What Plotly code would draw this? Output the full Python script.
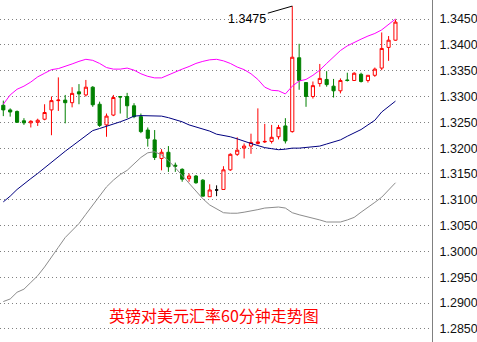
import plotly.graph_objects as go

# OHLC data (GBP/USD, 60-minute bars)
opens = [1.3283, 1.3274, 1.3271, 1.3253, 1.3249, 1.3250, 1.3256, 1.3274, 1.3292, 1.3293,
         1.3288, 1.3309, 1.3303, 1.3318, 1.3285, 1.3245, 1.3264, 1.3300, 1.3300, 1.3282,
         1.3261, 1.3235, 1.3216, 1.3180, 1.3192, 1.3167, 1.3159, 1.3141, 1.3146, 1.3138,
         1.3106, 1.3119, 1.3120, 1.3158, 1.3188, 1.3200, 1.3204, 1.3209, 1.3212, 1.3213,
         1.3222, 1.3243, 1.3232, 1.3375, 1.3327, 1.3300, 1.3325, 1.3333, 1.3320, 1.3311,
         1.3332, 1.3331, 1.3343, 1.3331, 1.3341, 1.3355, 1.3395, 1.3409]
highs = [1.3292, 1.3277, 1.3273, 1.3258, 1.3254, 1.3257, 1.3285, 1.3300, 1.3337, 1.3303,
         1.3318, 1.3324, 1.3332, 1.3320, 1.3290, 1.3267, 1.3303, 1.3301, 1.3307, 1.3287,
         1.3267, 1.3240, 1.3235, 1.3198, 1.3204, 1.3172, 1.3161, 1.3151, 1.3148, 1.3140,
         1.3130, 1.3128, 1.3165, 1.3190, 1.3221, 1.3209, 1.3228, 1.3277, 1.3247, 1.3245,
         1.3245, 1.3258, 1.3475, 1.3402, 1.3327, 1.3329, 1.3363, 1.3349, 1.3334, 1.3335,
         1.3346, 1.3347, 1.3346, 1.3341, 1.3356, 1.3424, 1.3417, 1.3449]
lows = [1.3262, 1.3261, 1.3249, 1.3245, 1.3240, 1.3243, 1.3254, 1.3225, 1.3272, 1.3248,
        1.3279, 1.3285, 1.3300, 1.3280, 1.3241, 1.3222, 1.3262, 1.3267, 1.3258, 1.3258,
        1.3229, 1.3203, 1.3177, 1.3157, 1.3154, 1.3154, 1.3135, 1.3135, 1.3131, 1.3107,
        1.3106, 1.3107, 1.3120, 1.3156, 1.3185, 1.3180, 1.3189, 1.3207, 1.3210, 1.3209,
        1.3217, 1.3209, 1.3230, 1.3313, 1.3280, 1.3296, 1.3319, 1.3319, 1.3298, 1.3306,
        1.3329, 1.3330, 1.3327, 1.3327, 1.3338, 1.3351, 1.3369, 1.3408]
closes = [1.3274, 1.3270, 1.3250, 1.3249, 1.3252, 1.3254, 1.3269, 1.3292, 1.3293, 1.3288,
          1.3306, 1.3305, 1.3318, 1.3284, 1.3244, 1.3262, 1.3298, 1.3299, 1.3282, 1.3261,
          1.3232, 1.3219, 1.3182, 1.3192, 1.3164, 1.3165, 1.3140, 1.3146, 1.3133, 1.3107,
          1.3119, 1.3119, 1.3158, 1.3188, 1.3196, 1.3204, 1.3211, 1.3212, 1.3213, 1.3221,
          1.3240, 1.3214, 1.3376, 1.3331, 1.3300, 1.3321, 1.3335, 1.3323, 1.3311, 1.3331,
          1.3331, 1.3345, 1.3329, 1.3341, 1.3353, 1.3393, 1.3409, 1.3444]

# Bollinger bands
boll_upper = [1.3285, 1.3303, 1.3314, 1.3320, 1.3328, 1.3338, 1.3345, 1.3352, 1.3354, 1.3358,
              1.3363, 1.3368, 1.3372, 1.3370, 1.3364, 1.3356, 1.3353, 1.3353, 1.3355, 1.3351,
              1.3344, 1.3339, 1.3336, 1.3336, 1.3342, 1.3347, 1.3353, 1.3358, 1.3364, 1.3368,
              1.3371, 1.3372, 1.3369, 1.3364, 1.3357, 1.3352, 1.3344, 1.3333, 1.3318, 1.3312,
              1.3311, 1.3305, 1.3320, 1.3330, 1.3333, 1.3341, 1.3351, 1.3364, 1.3376, 1.3389,
              1.3398, 1.3405, 1.3411, 1.3417, 1.3422, 1.3429, 1.3440, 1.3450]
boll_mid = [1.3096, 1.3107, 1.3120, 1.3131, 1.3141, 1.3151, 1.3162, 1.3173, 1.3184, 1.3194,
            1.3204, 1.3214, 1.3225, 1.3234, 1.3238, 1.3242, 1.3247, 1.3251, 1.3256, 1.3262,
            1.3263, 1.3263, 1.3263, 1.3262, 1.3259, 1.3255, 1.3251, 1.3245, 1.3241, 1.3238,
            1.3233, 1.3227, 1.3225, 1.3222, 1.3218, 1.3213, 1.3209, 1.3205, 1.3201, 1.3199,
            1.3197, 1.3198, 1.3200, 1.3200, 1.3201, 1.3202, 1.3204, 1.3208, 1.3212, 1.3216,
            1.3223, 1.3229, 1.3236, 1.3245, 1.3254, 1.3270, 1.3281, 1.3291]
boll_lower = [1.2903, 1.2908, 1.2921, 1.2927, 1.2940, 1.2953, 1.2970, 1.2988, 1.3008, 1.3027,
              1.3041, 1.3054, 1.3072, 1.3090, 1.3107, 1.3125, 1.3138, 1.3149, 1.3157, 1.3169,
              1.3182, 1.3191, 1.3193, 1.3187, 1.3176, 1.3162, 1.3147, 1.3131, 1.3115, 1.3102,
              1.3090, 1.3082, 1.3075, 1.3074, 1.3074, 1.3076, 1.3078, 1.3081, 1.3084, 1.3085,
              1.3086, 1.3084, 1.3075, 1.3071, 1.3068, 1.3064, 1.3061, 1.3057, 1.3057, 1.3057,
              1.3061, 1.3066, 1.3076, 1.3085, 1.3095, 1.3105, 1.3119, 1.3133]

tick_vals = [1.2850, 1.2900, 1.2950, 1.3000, 1.3050, 1.3100, 1.3150, 1.3200,
             1.3250, 1.3300, 1.3350, 1.3400, 1.3450]
title_text = "英镑对美元汇率60分钟走势图"
peak_label = "1.3475"

n = len(opens)
xs = list(range(n))

fig = go.Figure()

fig.add_trace(go.Scatter(x=xs, y=boll_lower, mode="lines",
                         line=dict(color="#8c8c8c", width=1), hoverinfo="skip"))
fig.add_trace(go.Scatter(x=xs, y=boll_mid, mode="lines",
                         line=dict(color="#000080", width=1), hoverinfo="skip"))
fig.add_trace(go.Scatter(x=xs, y=boll_upper, mode="lines",
                         line=dict(color="#ff00ff", width=1), hoverinfo="skip"))

# doji bars (open == close) drawn in black
doji = [i for i in xs if opens[i] == closes[i]]
normal = [i for i in xs if opens[i] != closes[i]]

fig.add_trace(go.Candlestick(
    x=normal,
    open=[opens[i] for i in normal], high=[highs[i] for i in normal],
    low=[lows[i] for i in normal], close=[closes[i] for i in normal],
    increasing=dict(line=dict(color="#ff0000", width=1), fillcolor="#ffffff"),
    decreasing=dict(line=dict(color="#008000", width=1), fillcolor="#008000"),
    whiskerwidth=0, showlegend=False))
if doji:
    fig.add_trace(go.Candlestick(
        x=doji,
        open=[opens[i] for i in doji], high=[highs[i] for i in doji],
        low=[lows[i] for i in doji], close=[closes[i] for i in doji],
        increasing=dict(line=dict(color="#000000", width=1), fillcolor="#000000"),
        decreasing=dict(line=dict(color="#000000", width=1), fillcolor="#000000"),
        whiskerwidth=0, showlegend=False))

peak_idx = highs.index(max(highs))
fig.add_annotation(x=peak_idx, y=highs[peak_idx], xref="x", yref="y",
                   text=peak_label, showarrow=True, arrowhead=0, arrowwidth=1,
                   arrowcolor="#000000", ax=-45, ay=13,
                   font=dict(family="Liberation Sans, Arial", size=12.5, color="#000000"))

fig.add_annotation(x=0.495, y=0.079, xref="paper", yref="paper",
                   text=title_text, showarrow=False,
                   xanchor="center", yanchor="middle",
                   font=dict(family="Noto Sans CJK SC", size=16, color="#ff0000"))

fig.update_layout(
    width=477, height=342,
    margin=dict(l=0, r=45, t=0, b=0),
    paper_bgcolor="#ffffff", plot_bgcolor="#ffffff",
    showlegend=False,
    boxgap=0.35,
    xaxis=dict(range=[-0.48, 62.31], showticklabels=False, showgrid=False,
               zeroline=False, rangeslider=dict(visible=False), fixedrange=True),
    yaxis=dict(range=[1.28247, 1.34868], side="right", tickvals=tick_vals,
               tickformat=".4f", showgrid=True, gridcolor="#808080",
               griddash="1px,3px", gridwidth=1, zeroline=False,
               showline=True, linecolor="#808080", linewidth=1,
               ticks="", ticklabelstandoff=4,
               tickfont=dict(family="Liberation Sans, Arial", size=12.5, color="#111111")),
)

fig.write_html("out.html")
